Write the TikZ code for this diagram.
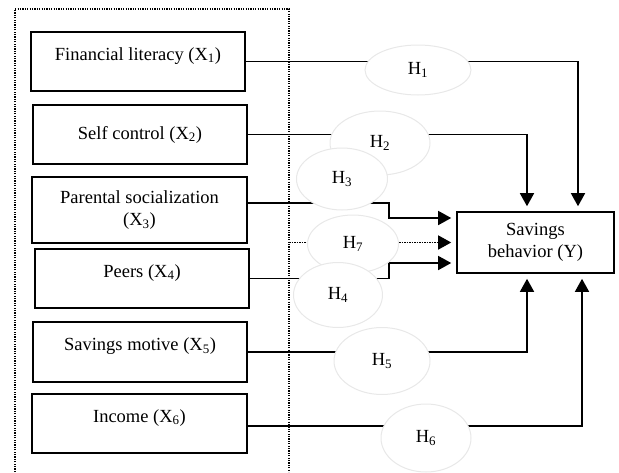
\documentclass[tikz,border=0pt]{standalone}
\usepackage{fontspec}
\setmainfont{Liberation Serif}
\usepackage{tikz}
\usetikzlibrary{arrows.meta,calc,positioning,shapes.geometric}
\tikzset{
	varbox/.style={draw,line width=1.6pt,minimum width=214pt,minimum height=59pt,inner sep=0pt,align=center,text height=13pt,text depth=3.5pt},
	lifted/.style={text depth=15.5pt},
	hyp/.style={ellipse,draw=black!9,fill=white,line width=1pt,inner sep=0pt},
	link/.style={line width=1.5pt,-{Triangle[length=13pt,width=14pt]},shorten >=5pt},
	frame/.style={line width=1.4pt,dash pattern=on 1.2pt off 1.2pt},
}

\begin{document}
\begin{tikzpicture}[x=1pt,y=-1pt,font=\fontsize{18.5}{22}\selectfont]
				\useasboundingbox (0,0) rectangle (619,472);
				\draw[frame] (15,472) to (15,9) to (289,9) to (289,472);
				\node[varbox,lifted] (x1) at (138,61.5) {Financial literacy (X\textsubscript{1})};
				\node[varbox] (x2) at (140,134.5) {Self control (X\textsubscript{2})};
				\node[varbox,minimum width=215pt,minimum height=66pt,text height=,text depth=] (x3) at (139.5,210) {Parental socialization\\(X\textsubscript{3})};
				\node[varbox,lifted] (x4) at (142,278.5) {Peers (X\textsubscript{4})};
				\node[varbox,lifted,minimum height=60pt] (x5) at (140,352) {Savings motive (X\textsubscript{5})};
				\node[varbox,lifted,minimum width=215pt] (x6) at (139.5,423.5) {Income (X\textsubscript{6})};
				\node[draw,line width=1.6pt,minimum width=157pt,minimum height=61pt,align=center,inner sep=0pt] (y) at (535.5,242.5) {Savings\\behavior (Y)};
				\coordinate (d7) at (289,242.5);
				\draw[link] (x1.east) -| ([xshift=42.5pt]y.north);
				\draw[link] (x2.east) -| ([xshift=-8.5pt]y.north);
				\draw[link] ([yshift=7pt]x3.east) -- ++(141,0) |- ([yshift=24.5pt]y.west);
				\draw[link,dash pattern=on 1.5pt off 1pt] (d7) to (y.west);
				\draw[link] (x4.east) -- ++(139,0) |- ([yshift=-20.5pt]y.west);
				\draw[link] (x5.east) -| ([xshift=-8.5pt]y.south);
				\draw[link] ([yshift=-2.5pt]x6.east) -| ([xshift=46.5pt]y.south);
				\node[hyp,minimum width=106pt,minimum height=50pt] (h1) at (418,70) {H\textsubscript{1}};
				\node[hyp,minimum width=100pt,minimum height=64pt] (h2) at (380,143) {H\textsubscript{2}};
				\node[hyp,minimum width=91pt,minimum height=62pt] (h3) at (342,179) {H\textsubscript{3}};
				\node[hyp,minimum width=91pt,minimum height=58pt] (h7) at (353,244) {H\textsubscript{7}};
				\node[hyp,minimum width=89pt,minimum height=65pt] (h4) at (338,295) {H\textsubscript{4}};
				\node[hyp,minimum width=96pt,minimum height=67pt] (h5) at (382,361) {H\textsubscript{5}};
				\node[hyp,minimum width=90pt,minimum height=68pt] (h6) at (426,438) {H\textsubscript{6}};
	\end{tikzpicture}
\end{document}
